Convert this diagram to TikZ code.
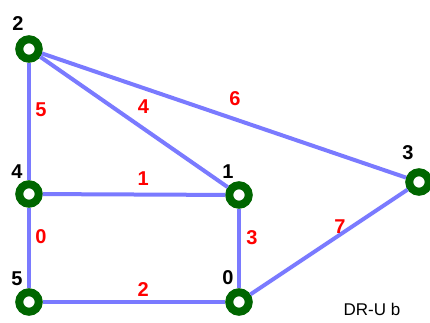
\documentclass[tikz,border=0pt]{standalone}
\usepackage{fontspec}
\setmainfont{Liberation Sans}
\usetikzlibrary{positioning}
\definecolor{cRing}{RGB}{0,102,0}
\definecolor{cEdge}{RGB}{122,122,255}
\definecolor{cWeight}{RGB}{255,0,0}
\tikzset{
  vertex/.style={
    circle, draw=cRing, line width=8pt, fill=white,
    minimum size=19.5pt, inner sep=0pt, outer sep=4pt,
  },
  vname/.style={
    text=black, font=\fontsize{20}{20}\selectfont\bfseries, inner sep=0pt,
  },
  weight/.style={
    text=cWeight, font=\fontsize{20}{20}\selectfont\bfseries, inner sep=0pt,
  },
  link/.style={line width=4pt, draw=cEdge},
}

\begin{document}
\begin{tikzpicture}[x=1pt, y=-1pt]
\useasboundingbox (0,0) rectangle (430,323);

\node[vertex, label={[vname, xshift=-11pt, yshift=25pt]center:2}] (v2) at (29,49) {};
\node[vertex, label={[vname, xshift=-12pt, yshift=22pt]center:4}] (v4) at (29,194) {};
\node[vertex, label={[vname, xshift=-11pt, yshift=23pt]center:1}] (v1) at (239,195) {};
\node[vertex, label={[vname, xshift=-12pt, yshift=23pt]center:5}] (v5) at (29,302) {};
\node[vertex, label={[vname, xshift=-11pt, yshift=24pt]center:0}] (v0) at (239,302) {};
\node[vertex, label={[vname, xshift=-11pt, yshift=29pt]center:3}] (v3) at (419,182) {};

\draw[link] (v2) -- node[weight, pos=.4, xshift=12pt] {5} (v4);
\draw[link] (v2) -- node[weight, pos=.55, yshift=22pt] {4} (v1);
\draw[link] (v2) -- node[weight, pos=.53, yshift=21pt] {6} (v3);
\draw[link] (v4) -- node[weight, pos=.55, yshift=16pt] {1} (v1);
\draw[link] (v4) -- node[weight, pos=.36, xshift=12pt] {0} (v5);
\draw[link] (v1) -- node[weight, pos=.36, xshift=13pt] {3} (v0);
\draw[link] (v0) -- node[weight, pos=.57, yshift=8pt] {7} (v3);
\draw[link] (v5) -- node[weight, pos=.55, yshift=12pt] {2} (v0);

\node[font=\fontsize{17}{17}\selectfont, inner sep=0pt] (tag) at (372,309) {DR-U b};

\end{tikzpicture}
\end{document}
